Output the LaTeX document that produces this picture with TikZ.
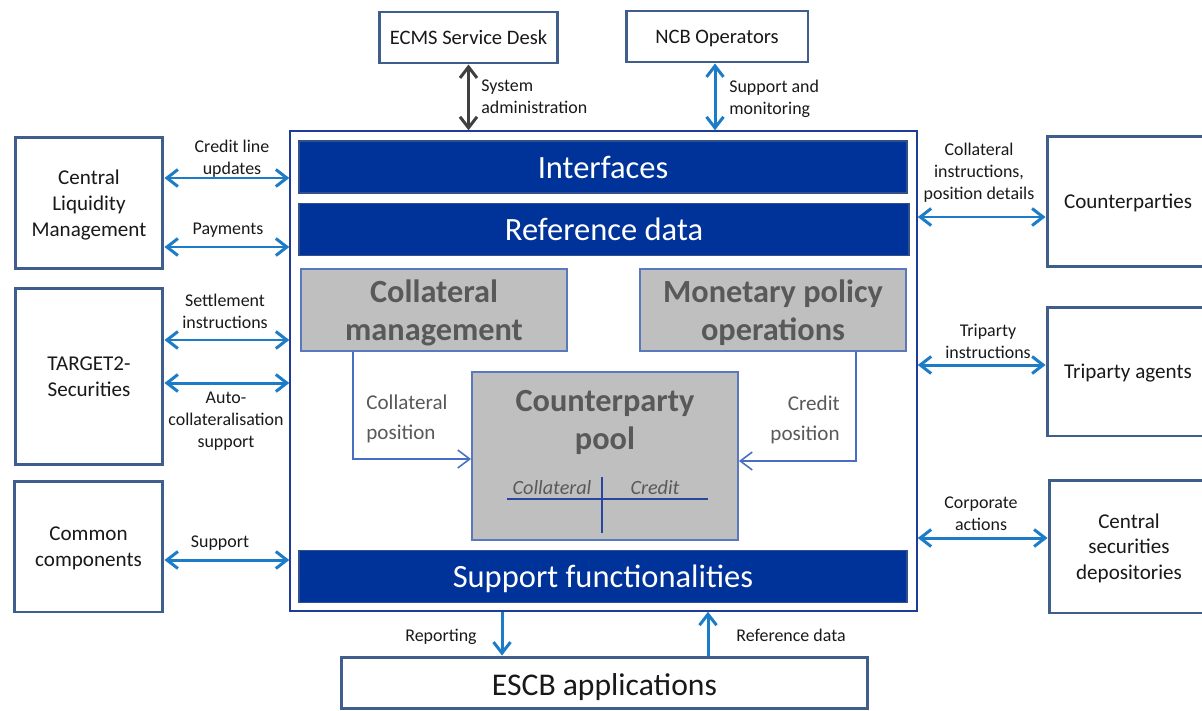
\documentclass[tikz,border=0pt]{standalone}
\usepackage{fontspec}
\setmainfont{Carlito}
\usetikzlibrary{arrows.meta}
\definecolor{boxline}{RGB}{64,94,140}
\definecolor{frameline}{RGB}{32,60,150}
\definecolor{barfill}{RGB}{0,51,153}
\definecolor{barline}{RGB}{50,80,140}
\definecolor{modfill}{RGB}{191,191,191}
\definecolor{modline}{RGB}{90,120,190}
\definecolor{modtext}{RGB}{89,89,89}
\definecolor{linkblue}{RGB}{28,124,200}
\definecolor{linkdark}{RGB}{64,64,64}
\definecolor{flowblue}{RGB}{72,110,195}
\definecolor{crossblue}{RGB}{40,70,160}

\begin{document}
\begin{tikzpicture}[x=0.02cm, y=-0.02cm,
box/.style={draw=boxline, line width=1.7pt, fill=white, align=center, inner sep=2pt, text depth=0pt, text=black!90, font=\fontsize{12}{14.7}\selectfont},
bar/.style={draw=barline, line width=1.1pt, fill=barfill, text=white, text depth=0pt, minimum width=12.16cm, minimum height=1.04cm, font=\fontsize{18.5}{22}\selectfont},
module/.style={draw=modline, line width=1.1pt, fill=modfill, text=modtext, align=center, text depth=0pt, minimum width=5.32cm, font=\bfseries\fontsize{18.4}{21.5}\selectfont},
lbl/.style={align=center, inner sep=0pt, text depth=0pt, text=black!90, font=\fontsize{10.2}{12.5}\selectfont},
poslbl/.style={text=modtext, inner sep=0pt, text depth=0pt, font=\fontsize{12}{17}\selectfont},
link/.style={draw=linkblue, line width=1.7pt, {Straight Barb[length=2.2mm,width=3.4mm]}-{Straight Barb[length=2.2mm,width=3.4mm]}},
onelink/.style={draw=linkblue, line width=1.7pt, -{Straight Barb[length=2.2mm,width=3.4mm]}},
flow/.style={draw=flowblue, line width=0.9pt, -{Straight Barb[length=2.4mm,width=3.6mm]}}]
\useasboundingbox (0,0) rectangle (1202,710);
\par
% top actors
\node[box, minimum width=3.58cm, minimum height=1.02cm, font=\fontsize{11.7}{14}\selectfont] (desk) at (468.5,37.5) {ECMS Service Desk};
\node[box, minimum width=3.64cm, minimum height=1.02cm, font=\fontsize{11.7}{14}\selectfont] (ncb) at (717,36.5) {NCB Operators};
% ECMS frame and its blocks
\node[draw=frameline, line width=0.9pt, minimum width=12.54cm, minimum height=9.6cm] (frame) at (603.5,371) {};
\node[bar] (intf) at (603,167) {Interfaces};
\node[bar, minimum width=12.2cm] (refd) at (604,229.5) {Reference data};
\node[bar] (supp) at (603,576.5) {Support functionalities};
\node[module, minimum height=1.64cm] (collmgmt) at (434,310) {Collateral\\management};
\node[module, minimum height=1.64cm] (monpol) at (773,310) {Monetary policy\\operations};
\node[module, minimum height=3.36cm] (pool) at (605,456) {};
\node[module, draw=none, fill=none, inner sep=0pt] (pooltitle) at (605,420) {Counterparty\\pool};
\node[poslbl, font=\itshape\fontsize{11.5}{14}\selectfont] (poolcoll) at (552,487) {Collateral};
\node[poslbl, font=\itshape\fontsize{11.5}{14}\selectfont] (poolcred) at (655,487) {Credit};
\draw[crossblue, line width=0.9pt] (507,499) -- (708,499) (602,477) -- (602,533);
% left actors
\node[box, minimum width=2.96cm, minimum height=2.64cm] (clm) at (89,203) {Central\\Liquidity\\Management};
\node[box, minimum width=2.96cm, minimum height=3.54cm] (t2s) at (89,376.5) {TARGET2-\\Securities};
\node[box, minimum width=2.98cm, minimum height=2.62cm] (common) at (88.5,546.5) {Common\\components};
% right actors
\node[box, minimum width=3.24cm, minimum height=2.62cm] (cpty) at (1128,201.5) {Counterparties};
\node[box, minimum width=3.24cm, minimum height=2.58cm] (tri) at (1128,371.5) {Triparty agents};
\node[box, minimum width=3.2cm, minimum height=2.66cm] (csd) at (1129,546.5) {Central\\securities\\depositories};
% bottom
\node[box, minimum width=10.54cm, minimum height=1.02cm, text height=14.5pt, font=\fontsize{18}{22}\selectfont] (escb) at (604.5,682.5) {ESCB applications};
\par
% connectors
\draw[link, draw=linkdark] (desk.south) -- (desk.south |- frame.north);
\draw[link] (ncb.south -| 715,0) -- (frame.north -| 715,0);
\node[lbl, align=left, anchor=west] (lsys) at (481,97) {System\\administration};
\node[lbl, align=left, anchor=west] (lmon) at (729,97) {Support and\\monitoring};
\draw[link] (clm.east |- 0,178) -- (frame.west |- 0,178);
\draw[link] (clm.east |- 0,247) -- (frame.west |- 0,247);
\draw[link] (t2s.east |- 0,340) -- (frame.west |- 0,340);
\draw[link] (t2s.east |- 0,383) -- (frame.west |- 0,383);
\draw[link] (common.east |- 0,560) -- (frame.west |- 0,560);
\node[lbl] (lcredit) at (232,157) {Credit line\\updates};
\node[lbl] (lpay) at (228,229) {Payments};
\node[lbl] (lsettle) at (225,311) {Settlement\\instructions};
\node[lbl] (lauto) at (226,420) {Auto-\\collateralisation\\support};
\node[lbl] (lsupp) at (220,542) {Support};
\draw[link] (frame.east |- 0,217) -- (cpty.west |- 0,217);
\draw[link] (frame.east |- 0,365) -- (tri.west |- 0,365);
\draw[link] (frame.east |- 0,538) -- (csd.west |- 0,538);
\node[lbl] (lcoll) at (979,171) {Collateral\\instructions,\\position details};
\node[lbl] (ltri) at (988,341) {Triparty\\instructions};
\node[lbl] (lcorp) at (981,514) {Corporate\\actions};
\draw[onelink] (frame.south -| 502,0) -- (escb.north -| 502,0);
\draw[onelink] (escb.north -| 708,0) -- (frame.south -| 708,0);
\node[lbl] (lrep) at (441,635) {Reporting};
\node[lbl] (lref) at (791,635) {Reference data};
\draw[flow] (collmgmt.south -| 353,0) |- (pool.west |- 0,459);
\draw[flow] (monpol.south -| 856,0) |- (pool.east |- 0,461);
\node[poslbl, align=left, anchor=west] (lcollpos) at (366,417) {Collateral\\position};
\node[poslbl, align=right, anchor=east] (lcredpos) at (840,418) {Credit\\position};
\par
\end{tikzpicture}
\end{document}
